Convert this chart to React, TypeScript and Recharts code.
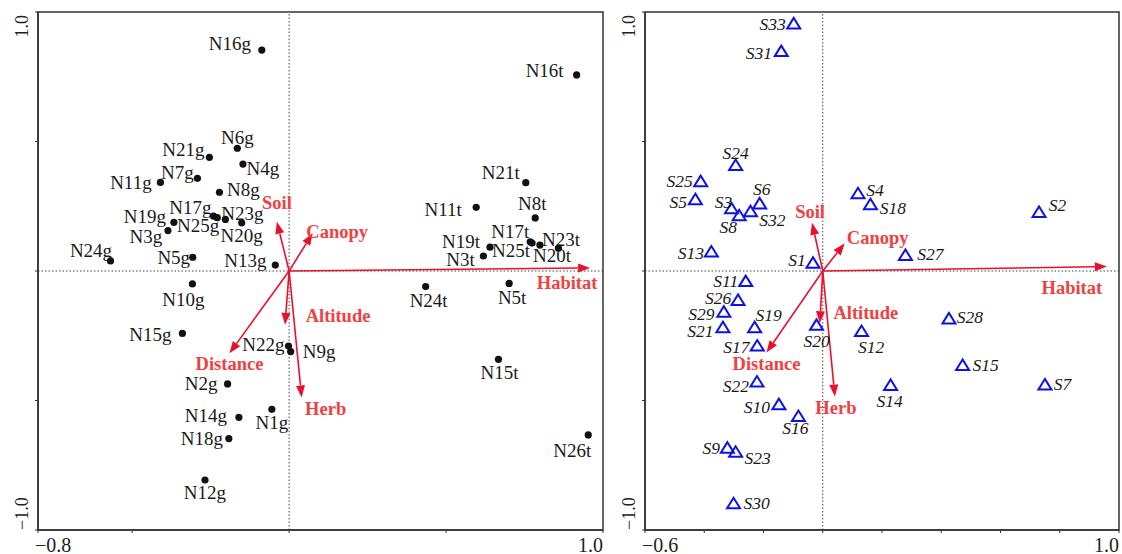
import React from 'react';
import { ScatterChart, Scatter, XAxis, YAxis, ReferenceLine, ReferenceArea } from 'recharts';

const FONT = '"Liberation Serif", "Times New Roman", serif';
const AXIS = '#333333';
const RED_LINE = '#e8112d';
const RED_TEXT = '#f2403f';
const BLUE = '#0c12e6';

// ---------- Left panel: sites ----------
const siteNames = [
  'N16g', 'N6g', 'N21g', 'N4g', 'N7g', 'N11g', 'N8g', 'N17g', 'N25g', 'N23g', 'N20g', 'N19g', 'N3g',
  'N24g', 'N5g', 'N13g', 'N10g', 'N15g', 'N22g', 'N9g', 'N2g', 'N1g', 'N14g', 'N18g', 'N12g',
  'N16t', 'N21t', 'N11t', 'N8t', 'N17t', 'N25t', 'N23t', 'N20t', 'N19t', 'N3t', 'N24t', 'N5t', 'N15t', 'N26t',
];
const siteX = [
  -0.087, -0.165, -0.254, -0.147, -0.292, -0.41, -0.222, -0.241, -0.229, -0.203, -0.151, -0.367, -0.386,
  -0.569, -0.307, -0.044, -0.308, -0.34, -0.002, 0.005, -0.196, -0.055, -0.16, -0.192, -0.268,
  0.916, 0.754, 0.596, 0.784, 0.768, 0.774, 0.799, 0.858, 0.64, 0.619, 0.435, 0.701, 0.667, 0.953,
];
const siteY = [
  0.853, 0.474, 0.439, 0.413, 0.358, 0.342, 0.304, 0.212, 0.206, 0.199, 0.186, 0.188, 0.156,
  0.039, 0.053, 0.023, -0.05, -0.241, -0.29, -0.311, -0.436, -0.534, -0.565, -0.647, -0.807,
  0.757, 0.341, 0.246, 0.205, 0.113, 0.108, 0.1, 0.088, 0.092, 0.058, -0.06, -0.048, -0.341, -0.633,
];
const siteLabelDx = [
  -32, 0, -26, 20, -20, -29.5, 24, -23, -19, 17, 0, -29, -22,
  -19.5, -19, -30, -9, -32, -25, 28.5, -26.5, 0, -33, -27, 0,
  -32, -25, -33, -3, -20, -21, 21, -6.5, -29, -23, 3, 3, 1, -16,
];
const siteLabelDy = [
  -7, -11, -8, 4, -6, 0, -3, -8.5, 8, -6, 13, -6, 6,
  -10, 0, -5, 16, 1, -1.5, 0, 0, 13, -1.5, 0, 12,
  -4, -10, 2, -14, -10, 7, -6, 7, -6, 4, 14, 14.5, 13.5, 16,
];

// ---------- Right panel: species ----------
const speciesNames = [
  'S33', 'S31', 'S24', 'S25', 'S5', 'S6', 'S3', 'S8', 'S32', 'S13', 'S1', 'S4', 'S18', 'S2', 'S27',
  'S11', 'S26', 'S29', 'S19', 'S20', 'S21', 'S17', 'S22', 'S10', 'S16', 'S9', 'S23', 'S30',
  'S28', 'S12', 'S15', 'S14', 'S7',
];
const speciesX = [
  -0.098, -0.14, -0.294, -0.412, -0.43, -0.213, -0.308, -0.282, -0.244, -0.376, -0.033, 0.119, 0.161, 0.73, 0.279,
  -0.26, -0.286, -0.334, -0.23, -0.021, -0.337, -0.221, -0.222, -0.148, -0.082, -0.322, -0.294, -0.301,
  0.426, 0.131, 0.472, 0.229, 0.75,
];
const speciesY = [
  0.956, 0.849, 0.409, 0.347, 0.277, 0.261, 0.242, 0.215, 0.231, 0.075, 0.032, 0.3, 0.258, 0.228, 0.062,
  -0.039, -0.112, -0.157, -0.217, -0.208, -0.217, -0.288, -0.427, -0.514, -0.56, -0.682, -0.698, -0.897,
  -0.183, -0.232, -0.363, -0.44, -0.438,
];
const speciesLabelDx = [
  -21, -22.5, 0, -21, -17, 2, -8, -11, 22, -20.5, -16, 17, 22.5, 18.5, 25,
  -20, -20, -22.5, 14, 0, -22.5, -21, -21, -22, -3, -16, 22, 23,
  21, 9.5, 23, -1, 17.5,
];
const speciesLabelDy = [
  1, 1.5, -12.5, 0, 3, -14, -6, 12, 9, 1, -3, -3, 4, -7, -1,
  0, -2, 2, -12, 16, 3.5, 1, 4, 3, 11.5, 0, 6, 0,
  -1, 16, 0, 16, 0,
];

// ---------- Environmental vectors ----------
const envNames = ['Habitat', 'Soil', 'Canopy', 'Altitude', 'Herb', 'Distance'];
const envSiteX = [0.959, -0.039, 0.075, -0.013, 0.04, -0.19];
const envSiteY = [0.012, 0.19, 0.146, -0.208, -0.488, -0.318];
const envSiteLabelDx = [-23, 0, 24.5, 53, 24, 0];
const envSiteLabelDy = [15, -19, -1.5, -9, 12, 11];
const envSpeciesX = [0.959, -0.036, 0.074, -0.01, 0.041, -0.19];
const envSpeciesY = [0.017, 0.186, 0.107, -0.202, -0.485, -0.315];
const envSpeciesLabelDx = [-35, -2, 33, 46, 1, 0];
const envSpeciesLabelDy = [21, -11, -5, -10, 11, 11];

// ---------- Axes ----------
const leftXTicks = [-0.8, -0.5, 0, 0.5, 1.0];
const rightXTicks = [-0.6, -0.4, -0.2, 0, 0.2, 0.4, 0.6, 0.8, 1.0];
const yTicks = [-1, -0.5, 0, 0.5, 1];

type Pt = { name: string; x: number; y: number; dx: number; dy: number };

const build = (n: string[], x: number[], y: number[], dx: number[], dy: number[]): Pt[] =>
  n.map((name, i) => ({ name, x: x[i], y: y[i], dx: dx[i], dy: dy[i] }));

const sites = build(siteNames, siteX, siteY, siteLabelDx, siteLabelDy);
const species = build(speciesNames, speciesX, speciesY, speciesLabelDx, speciesLabelDy);
const envSites = build(envNames, envSiteX, envSiteY, envSiteLabelDx, envSiteLabelDy);
const envSpecies = build(envNames, envSpeciesX, envSpeciesY, envSpeciesLabelDx, envSpeciesLabelDy);

const fmt = (v: number) => (v < 0 ? '\u2212' + Math.abs(v).toFixed(1) : v.toFixed(1));

const DotShape = (props: any) => {
  const { cx, cy, payload } = props;
  return (
    <g>
      <circle cx={cx} cy={cy} r={3.6} fill="#111" />
      <text
        x={cx + payload.dx}
        y={cy + payload.dy}
        textAnchor="middle"
        dominantBaseline="central"
        fontFamily={FONT}
        fontSize={19}
        fill="#1a1a1a"
      >
        {payload.name}
      </text>
    </g>
  );
};

const TriShape = (props: any) => {
  const { cx, cy, payload } = props;
  const pts = `${cx},${cy - 5.5} ${cx - 6.5},${cy + 5} ${cx + 6.5},${cy + 5}`;
  return (
    <g>
      <polygon points={pts} fill="none" stroke={BLUE} strokeWidth={2} strokeLinejoin="miter" />
      <text
        x={cx + payload.dx}
        y={cy + payload.dy}
        textAnchor="middle"
        dominantBaseline="central"
        fontFamily={FONT}
        fontStyle="italic"
        fontSize={17.5}
        fill="#1a1a1a"
      >
        {payload.name}
      </text>
    </g>
  );
};

const arrowShape = (a: Pt) => (p: any) => {
  const { x1, y1, x2, y2 } = p;
  const ang = Math.atan2(y2 - y1, x2 - x1);
  const L = 12;
  const W = 4.5;
  const bx = x2 - L * Math.cos(ang);
  const by = y2 - L * Math.sin(ang);
  const px = -Math.sin(ang) * W;
  const py = Math.cos(ang) * W;
  return (
    <g>
      <line x1={x1} y1={y1} x2={bx} y2={by} stroke={RED_LINE} strokeWidth={1.6} />
      <polygon points={`${x2},${y2} ${bx + px},${by + py} ${bx - px},${by - py}`} fill={RED_LINE} />
      <text
        x={x2 + a.dx}
        y={y2 + a.dy}
        textAnchor="middle"
        dominantBaseline="central"
        fontFamily={FONT}
        fontWeight="bold"
        fontSize={18.5}
        fill={RED_TEXT}
      >
        {a.name}
      </text>
    </g>
  );
};

const makeXTick = (min: number, max: number) => (props: any) => {
  const { x, y, payload } = props;
  const v = payload.value;
  if (Math.abs(v - min) > 1e-9 && Math.abs(v - max) > 1e-9) return <g />;
  const isMin = Math.abs(v - min) < 1e-9;
  return (
    <text
      x={isMin ? x - 3 : x}
      y={y + 16.5}
      textAnchor={isMin ? 'start' : 'end'}
      fontFamily={FONT}
      fontSize={20}
      fill="#222"
    >
      {fmt(v)}
    </text>
  );
};

const YTick = (props: any) => {
  const { x, y, payload } = props;
  const v = payload.value;
  if (Math.abs(Math.abs(v) - 1) > 1e-9) return <g />;
  const bx = x - 5;
  const by = v > 0 ? y + 3 : y;
  return (
    <text
      x={bx}
      y={by}
      transform={`rotate(-90, ${bx}, ${by})`}
      textAnchor={v > 0 ? 'end' : 'start'}
      fontFamily={FONT}
      fontSize={18}
      fill="#222"
    >
      {fmt(v)}
    </text>
  );
};

type PanelProps = {
  left: number;
  width: number;
  rightMargin: number;
  xMin: number;
  xTicks: number[];
  points: Pt[];
  env: Pt[];
  shape: (p: any) => React.ReactElement;
};

function Panel({ left, width, rightMargin, xMin, xTicks, points, env, shape }: PanelProps) {
  return (
    <div style={{ position: 'absolute', left, top: 0 }}>
      <ScatterChart width={width} height={554} margin={{ top: 12, right: rightMargin, bottom: 0, left: 0 }}>
        <XAxis
          type="number"
          dataKey="x"
          domain={[xMin, 1]}
          ticks={xTicks}
          interval={0}
          allowDataOverflow
          height={24}
          tickSize={3}
          axisLine={{ stroke: AXIS, strokeWidth: 1.5 }}
          tickLine={{ stroke: AXIS }}
          tick={makeXTick(xMin, 1)}
        />
        <YAxis
          type="number"
          dataKey="y"
          domain={[-1, 1]}
          ticks={yTicks}
          interval={0}
          allowDataOverflow
          width={38}
          tickSize={3}
          axisLine={{ stroke: AXIS, strokeWidth: 1.5 }}
          tickLine={{ stroke: AXIS }}
          tick={YTick}
        />
        <ReferenceArea x1={xMin} x2={1} y1={-1} y2={1} fill="none" fillOpacity={0} stroke={AXIS} strokeWidth={1.5} />
        <ReferenceLine x={0} stroke="#444" strokeWidth={1} strokeDasharray="1.5 2" />
        <ReferenceLine y={0} stroke="#444" strokeWidth={1} strokeDasharray="1.5 2" />
        {env.map((a) => (
          <ReferenceLine
            key={a.name}
            segment={[{ x: 0, y: 0 }, { x: a.x, y: a.y }]}
            ifOverflow="visible"
            shape={arrowShape(a)}
          />
        ))}
        <Scatter data={points} shape={shape} isAnimationActive={false} />
      </ScatterChart>
    </div>
  );
}

export default function App() {
  return (
    <div style={{ position: 'absolute', left: 0, top: 0, width: 1122, height: 554, background: '#fff' }}>
      <Panel
        left={0}
        width={610}
        rightMargin={7}
        xMin={-0.8}
        xTicks={leftXTicks}
        points={sites}
        env={envSites}
        shape={DotShape}
      />
      <Panel
        left={607}
        width={515}
        rightMargin={3}
        xMin={-0.6}
        xTicks={rightXTicks}
        points={species}
        env={envSpecies}
        shape={TriShape}
      />
    </div>
  );
}
